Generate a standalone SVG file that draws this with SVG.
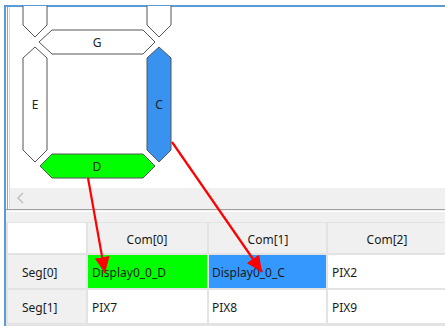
<svg xmlns="http://www.w3.org/2000/svg" width="445" height="326" viewBox="0 0 445 326">
<style>
.seg{fill:#ffffff;stroke:#555555;stroke-width:1}
.lbl{font-family:"Noto Sans","Open Sans",sans-serif;font-size:12px;fill:#222222;text-anchor:middle}
.cell{font-family:"Noto Sans","Open Sans",sans-serif;font-size:12px;fill:#1a1a1a}
.hdr{font-family:"Noto Sans","Open Sans",sans-serif;font-size:12px;fill:#1a1a1a;text-anchor:middle}
.arrow{stroke:#ff0000;stroke-width:2.2;fill:none;marker-end:url(#ah)}
</style>
<defs>
<marker id="ah" markerUnits="userSpaceOnUse" markerWidth="17" markerHeight="15" refX="16" refY="7.5" orient="auto">
<path d="M0,0 L16,7.5 L0,15 Z" fill="#ff0000"/>
</marker>
</defs>
<rect x="0" y="0" width="445" height="326" fill="#ffffff"/>
<!-- window frame -->
<rect x="4" y="5" width="441" height="2" fill="#5b9bd5"/>
<rect x="4" y="5" width="2" height="321" fill="#5b9bd5"/>
<rect x="7" y="7" width="1" height="203" fill="#a0a0a0"/>
<rect x="9" y="7" width="1" height="203" fill="#d8d8d8"/>
<!-- scrollbar -->
<rect x="10" y="188" width="435" height="21" fill="#f0f0f0"/>
<path d="M23,193 L18,198 L23,203" fill="none" stroke="#c0c0c0" stroke-width="1.5"/>
<rect x="6" y="209" width="439" height="1" fill="#a0a0a0"/>
<rect x="6" y="210" width="439" height="12" fill="#f0f0f0"/>
<rect x="6" y="211" width="439" height="1" fill="#ffffff"/>
<!-- segments -->
<g id="segF"><path class="seg" d="M23,6 L23,25 L35,37 L47,25 L47,6"/></g>
<g id="segB"><path class="seg" d="M147,6 L147,25 L159,37 L171,25 L171,6"/></g>
<g id="segG"><polygon class="seg" points="39,42 52,30 143,30 155,42 143,54 52,54"/><text class="lbl" x="97" y="47">G</text></g>
<g id="segE"><polygon class="seg" points="35,47 47,58 47,150 35,162 23,150 23,58"/><text class="lbl" x="35" y="109">E</text></g>
<g id="segC"><polygon class="seg" points="159,47 171,58 171,150 159,162 147,150 147,58" style="fill:#3a92f0"/><text class="lbl" x="159" y="109">C</text></g>
<g id="segD"><polygon class="seg" points="40,166 52,154 143,154 155,166 143,178 52,178" style="fill:#00ff00"/><text class="lbl" x="97" y="171">D</text></g>
<!-- table -->
<g id="table">
<rect x="6" y="222" width="439" height="104" fill="#e3e3e3"/>
<rect x="8" y="223" width="78" height="30" fill="#ffffff"/>
<rect x="88" y="223" width="119" height="30" fill="#f0f0f0"/>
<rect x="209" y="223" width="117" height="30" fill="#f0f0f0"/>
<rect x="328" y="223" width="117" height="30" fill="#f0f0f0"/>
<rect x="8" y="255" width="78" height="33" fill="#f0f0f0"/>
<rect x="8" y="290" width="78" height="33" fill="#f0f0f0"/>
<rect x="88" y="255" width="119" height="33" fill="#00ff00"/>
<rect x="209" y="255" width="117" height="33" fill="#3399ff"/>
<rect x="328" y="255" width="117" height="33" fill="#ffffff"/>
<rect x="88" y="290" width="119" height="33" fill="#ffffff"/>
<rect x="209" y="290" width="117" height="33" fill="#ffffff"/>
<rect x="328" y="290" width="117" height="33" fill="#ffffff"/>
<text class="hdr" x="147" y="244">Com[0]</text>
<text class="hdr" x="268" y="244">Com[1]</text>
<text class="hdr" x="387" y="244">Com[2]</text>
<text class="cell" x="22" y="277">Seg[0]</text>
<text class="cell" x="22" y="312">Seg[1]</text>
<text class="cell" x="92" y="277">Display0_0_D</text>
<text class="cell" x="212" y="277">Display0_0_C</text>
<text class="cell" x="332" y="277">PIX2</text>
<text class="cell" x="92" y="312">PIX7</text>
<text class="cell" x="212" y="312">PIX8</text>
<text class="cell" x="332" y="312">PIX9</text>
</g>
<!-- connectors -->
<g id="connectors">
<line class="arrow" x1="88" y1="178" x2="105" y2="273"/>
<line class="arrow" x1="172" y1="142" x2="262" y2="272"/>
</g>
</svg>
